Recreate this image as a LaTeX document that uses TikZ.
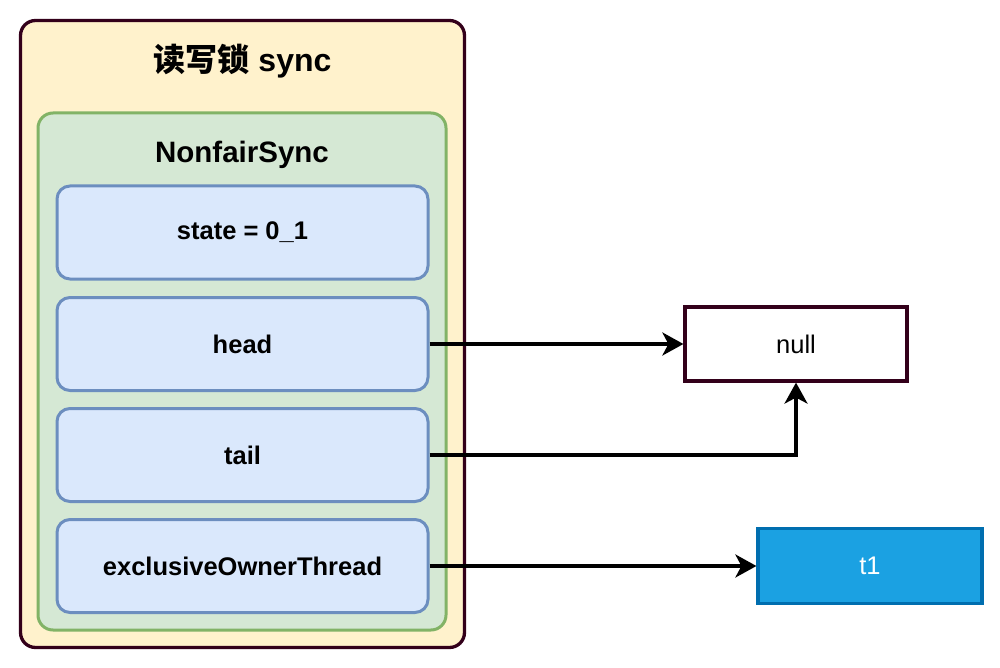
\documentclass[tikz,border=0pt]{standalone}
\usepackage{fontspec}
\setmainfont{Liberation Sans}
\newfontfamily\cjk{Noto Sans CJK SC}
\usetikzlibrary{arrows.meta}
\definecolor{outerfill}{HTML}{FFF2CC}
\definecolor{outerdraw}{HTML}{33001A}
\definecolor{greenfill}{HTML}{D5E8D4}
\definecolor{greendraw}{HTML}{82B366}
\definecolor{bluefill}{HTML}{DAE8FC}
\definecolor{bluedraw}{HTML}{6C8EBF}
\definecolor{tfill}{HTML}{1BA1E2}
\definecolor{tdraw}{HTML}{006EAF}
\tikzset{
  fieldbox/.style={draw=bluedraw, fill=bluefill, line width=3pt, rounded corners=13pt,
    minimum width=371pt, minimum height=93pt, font=\fontsize{25.5}{30}\selectfont\bfseries, inner sep=0pt},
  valbox/.style={line width=3.2pt, minimum height=75pt, font=\fontsize{25.5}{30}\selectfont, inner sep=0pt},
  titletext/.style={font=\fontsize{29.5}{34}\selectfont\bfseries, inner sep=0pt},
  link/.style={line width=3.4pt, -{Stealth[length=21pt, width=23pt, inset=6pt]}}
}
\begin{document}
\begin{tikzpicture}[x=1pt, y=-1pt]
\useasboundingbox (0,0) rectangle (1000,668);
\node[draw=outerdraw, fill=outerfill, line width=3.3pt, rounded corners=15pt,
  minimum width=444pt, minimum height=627pt, inner sep=0pt] (outer) at (242.5,334) {};
\node[titletext, font=\fontsize{32}{36}\selectfont\bfseries] (title) at (242.5,61) {{\cjk\bfseries 读写锁} sync};
\node[draw=greendraw, fill=greenfill, line width=3pt, rounded corners=15pt,
  minimum width=408pt, minimum height=517pt, inner sep=0pt] (green) at (242,371.5) {};
\node[titletext] (nfs) at (242,155) {NonfairSync};
\node[fieldbox] (state) at (242.5,232.5) {state = 0\_1};
\node[fieldbox] (head) at (242.5,344) {head};
\node[fieldbox] (tail) at (242.5,455) {tail};
\node[fieldbox] (excl) at (242.5,566) {exclusiveOwnerThread};
\node[valbox, draw=outerdraw, fill=white, minimum width=222pt, minimum height=74pt] (null) at (796,344) {null};
\node[valbox, draw=tdraw, fill=tfill, text=white, minimum width=224pt] (t1) at (870,566) {t1};
\draw[link] (head.east) -- (null.west);
\draw[link] (tail.east) -| (null.south);
\draw[link] (excl.east) -- (t1.west);
\end{tikzpicture}
\end{document}
